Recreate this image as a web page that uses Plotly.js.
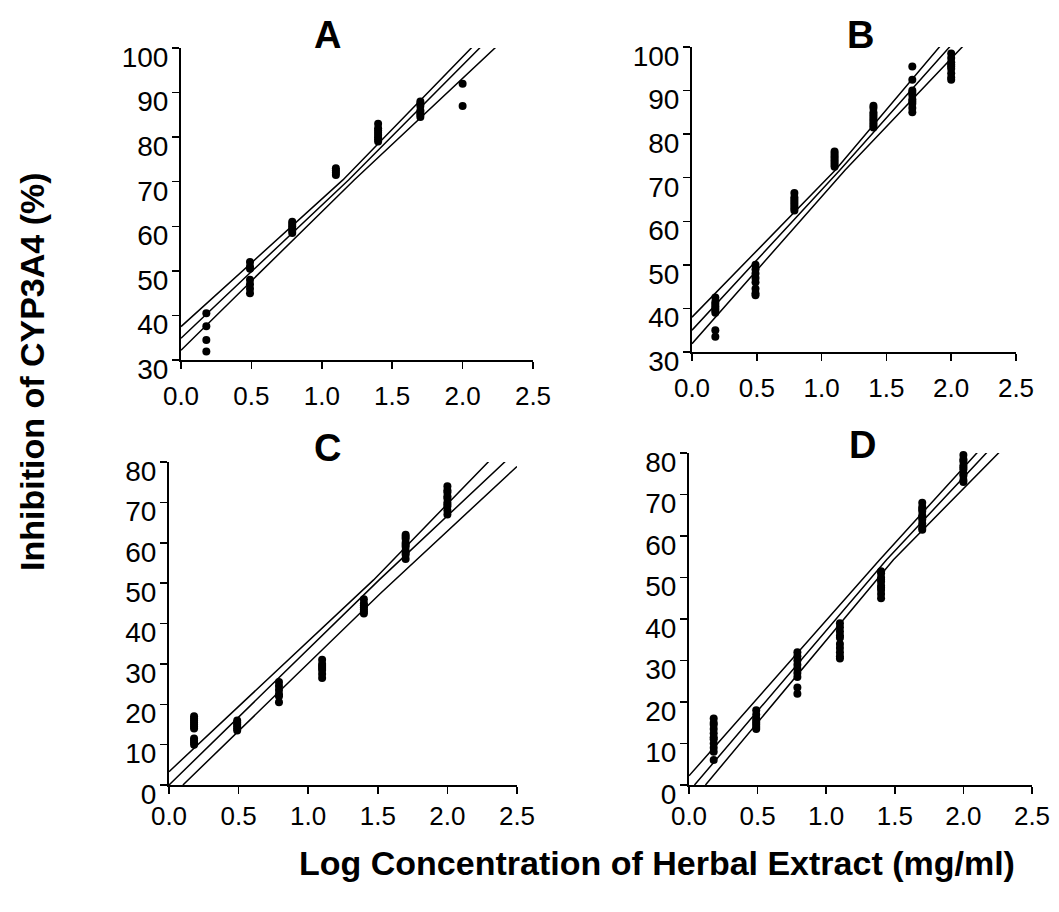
<!DOCTYPE html>
<html>
<head>
<meta charset="utf-8">
<script src="https://cdn.plot.ly/plotly-3.0.1.min.js"></script>
<style>html,body{margin:0;padding:0;background:#fff;}#chart{width:1059px;height:912px;}</style>
</head>
<body>
<div id="chart"></div>
<script>
// Log concentration groups (x positions of dose groups)
const doseLog = [0.18, 0.49, 0.79, 1.1, 1.4, 1.7, 2.0];

// Panel observations (inhibition %), one list per dose group
const A_obs = [
  [40.5, 37.6, 34.5, 31.9],
  [52, 51, 50.5, 48, 47, 46, 45],
  [61, 60.5, 60, 59.5, 59, 58.5],
  [73, 72.5, 72, 71.5],
  [83, 82, 81.5, 81, 80.5, 80, 79.5, 79],
  [88, 87.5, 87, 86, 85.5, 85, 84.5],
  [92, 87]
];
const B_obs = [
  [42.5, 41.5, 41, 40.5, 40, 39.5, 39, 35, 33.5],
  [50, 49, 48, 47, 46, 44.5, 43.5, 43],
  [66.5, 65.5, 65, 64.5, 64, 63.5, 63, 62.5],
  [76, 75.5, 75, 74.5, 74, 73.5, 73, 72.5],
  [86.5, 86, 85, 84.5, 84, 83.5, 83, 82.5, 82, 81.5],
  [95.5, 92.5, 90, 89.5, 89, 88, 87.5, 87, 86, 85],
  [98.5, 97.5, 96.5, 96, 95.5, 95, 94, 93, 92.5]
];
const C_obs = [
  [17, 16.5, 16, 15.5, 15, 14.5, 14, 11.5, 11, 10.5, 10],
  [16, 15.5, 15, 14.5, 14, 13.5],
  [25.5, 24.5, 23.5, 22.5, 22, 20.5],
  [31, 30, 29.5, 29, 28.5, 27.5, 26.5],
  [46, 45, 44.5, 44, 43.5, 43, 42.5],
  [62, 61.5, 61, 60, 59.5, 59, 58, 57.5, 57, 56],
  [74, 73, 72.5, 71.5, 71, 70, 69.5, 69, 68, 67]
];
const D_obs = [
  [16, 15, 14.5, 13.5, 12.5, 11.5, 11, 10, 9, 8, 6],
  [18, 17, 16, 15.5, 15, 14.5, 14, 13.5],
  [32, 31, 30, 29, 28, 27, 26, 23.5, 22],
  [39, 38, 37, 36, 35.5, 34, 33, 32, 31, 30.5],
  [51.5, 51, 50, 49.5, 49, 48, 47.5, 47, 46, 45],
  [68, 67, 66.5, 66, 65, 64.5, 64, 63, 62, 61.5],
  [79.5, 78.5, 78, 77, 76.5, 76, 75, 74.5, 73.5, 73]
];

// Regression line and confidence band points
const A_fitX = [0, 1.19, 2.14],  A_fitY = [34.9, 70.4, 100.6];
const A_upX  = [0, 1.15, 2.08],  A_upY  = [37.5, 70.4, 100.6];
const A_loX  = [0, 1.23, 2.25],  A_loY  = [32.2, 70.4, 100.6];
const B_fitX = [0, 1.14, 2.02],  B_fitY = [35.0, 71.7, 101.1];
const B_upX  = [0, 1.105, 1.94], B_upY  = [38.0, 71.7, 101.1];
const B_loX  = [0, 1.18, 2.12],  B_loY  = [31.9, 71.7, 101.1];
const C_fitX = [0, 1.51, 2.43],  C_fitY = [0, 50.8, 80.6];
const C_upX  = [0, 1.47, 2.31],  C_upY  = [3.3, 50.8, 80.6];
const C_loX  = [0.1, 1.52, 2.5], C_loY  = [0, 47.5, 78.9];
const D_fitX = [0.04, 1.44, 2.19], D_fitY = [0, 54.3, 80.8];
const D_upX  = [0, 1.39, 2.12],  D_upY  = [2.2, 54.3, 80.8];
const D_loX  = [0.12, 1.49, 2.28], D_loY = [0, 54.3, 80.8];

const panelLabels = ['A', 'B', 'C', 'D'];
const xTicks = [0, 0.5, 1.0, 1.5, 2.0, 2.5];
const yTicksTop = [30, 40, 50, 60, 70, 80, 90, 100];
const yTicksBottom = [0, 10, 20, 30, 40, 50, 60, 70, 80];
const yTitle = 'Inhibition of CYP3A4 (%)';
const xTitle = 'Log Concentration of Herbal Extract (mg/ml)';

const FONT = '"Liberation Sans", Arial, Helvetica, sans-serif';
const W = 1059, H = 912;

const panels = [
  {obs: A_obs, lines: [[A_upX, A_upY], [A_fitX, A_fitY], [A_loX, A_loY]], px: [181, 533], py: [360, 48], yr: [30, 100], yt: yTicksTop, lab: [327, 35], xso: 5},
  {obs: B_obs, lines: [[B_upX, B_upY], [B_fitX, B_fitY], [B_loX, B_loY]], px: [692, 1016], py: [352, 47], yr: [30, 100], yt: yTicksTop, lab: [860, 35], xso: 5},
  {obs: C_obs, lines: [[C_upX, C_upY], [C_fitX, C_fitY], [C_loX, C_loY]], px: [169, 517], py: [785, 462], yr: [0, 80], yt: yTicksBottom, lab: [327, 448], xso: 0},
  {obs: D_obs, lines: [[D_upX, D_upY], [D_fitX, D_fitY], [D_loX, D_loY]], px: [689, 1032], py: [785, 453], yr: [0, 80], yt: yTicksBottom, lab: [862, 445], xso: 0}
];

const traces = [];
const layout = {
  width: W, height: H,
  margin: {l: 0, r: 0, t: 0, b: 0},
  paper_bgcolor: '#fff', plot_bgcolor: '#fff',
  showlegend: false,
  font: {family: FONT, color: '#000'},
  annotations: []
};

panels.forEach((p, i) => {
  const n = i + 1;
  const xa = 'x' + (n === 1 ? '' : n), ya = 'y' + (n === 1 ? '' : n);
  const xs = [], ys = [];
  p.obs.forEach((grp, g) => grp.forEach(v => { xs.push(doseLog[g]); ys.push(v); }));
  traces.push({type: 'scatter', mode: 'markers', x: xs, y: ys, xaxis: xa, yaxis: ya,
    marker: {color: '#000', size: 8}, cliponaxis: false, hoverinfo: 'skip'});
  p.lines.forEach(([lx, ly]) => {
    traces.push({type: 'scatter', mode: 'lines', x: lx, y: ly, xaxis: xa, yaxis: ya,
      line: {color: '#000', width: 1.5}, hoverinfo: 'skip'});
  });
  const axCommon = {showline: true, linecolor: '#000', linewidth: 2, ticks: 'outside', ticklen: 7,
    tickwidth: 1.5, tickcolor: '#000', showgrid: false, zeroline: false};
  layout['xaxis' + (n === 1 ? '' : n)] = Object.assign({}, axCommon, {
    domain: [p.px[0] / W, p.px[1] / W], range: [0, 2.5], tickvals: xTicks,
    ticktext: xTicks.map(v => v.toFixed(1)), anchor: ya, ticklabelstandoff: p.xso,
    tickfont: {family: FONT, size: 26, color: '#000'}
  });
  layout['yaxis' + (n === 1 ? '' : n)] = Object.assign({}, axCommon, {
    domain: [1 - p.py[0] / H, 1 - p.py[1] / H], range: p.yr, tickvals: p.yt, anchor: xa,
    ticklabelstandoff: -2, ticklabelshift: 9,
    tickfont: {family: FONT, size: 28, color: '#000'}
  });
  layout.annotations.push({text: '<b>' + panelLabels[i] + '</b>', xref: 'paper', yref: 'paper',
    x: p.lab[0] / W, y: 1 - p.lab[1] / H, xanchor: 'center', yanchor: 'middle', showarrow: false,
    font: {family: FONT, size: 38, color: '#000'}});
});

layout.annotations.push({text: '<b>' + yTitle + '</b>', xref: 'paper', yref: 'paper',
  x: 32 / W, y: 1 - 372 / H, xanchor: 'center', yanchor: 'middle', textangle: -90, showarrow: false,
  font: {family: FONT, size: 34, color: '#000'}});
layout.annotations.push({text: '<b>' + xTitle + '</b>', xref: 'paper', yref: 'paper',
  x: 657 / W, y: 1 - 863 / H, xanchor: 'center', yanchor: 'middle', showarrow: false,
  font: {family: FONT, size: 34, color: '#000'}});

Plotly.newPlot('chart', traces, layout, {staticPlot: true, displayModeBar: false});
</script>
</body>
</html>
